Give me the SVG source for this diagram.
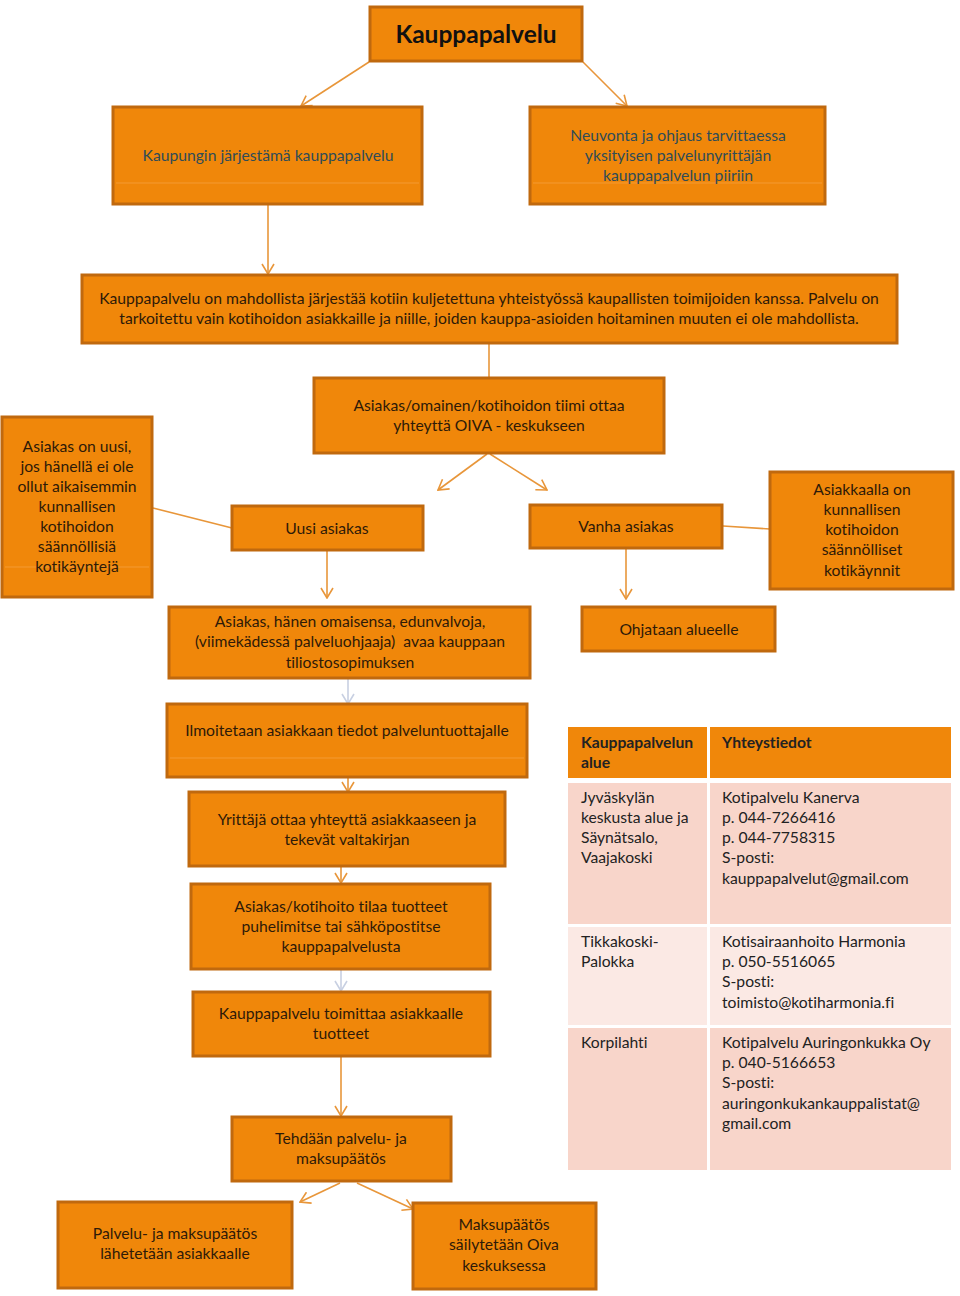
<svg xmlns="http://www.w3.org/2000/svg" width="960" height="1296" viewBox="0 0 960 1296">
<defs>
<style>
text{font-variant-ligatures:none;font-feature-settings:"liga" 0}
.b{fill:#F0870A;stroke:#C0690E;stroke-width:3}
.hl{stroke:#F6A445;stroke-width:1;opacity:0.7}
.t{font-family:Lato,"Open Sans",sans-serif;font-size:15.7px;fill:#2E1A08;text-anchor:middle}
.tt{font-family:Lato,"Open Sans",sans-serif;font-size:15.7px;fill:#2F4C58;text-anchor:middle}
.tb{font-family:Lato,"Open Sans",sans-serif;font-size:15.7px;fill:#222;}
.c{stroke:#E8963A;stroke-width:1.6;fill:none}
.g{stroke:#C8D0E2;stroke-width:1.6;fill:none}
</style>
<marker id="a" viewBox="0 0 12 14" refX="11" refY="7" markerWidth="12" markerHeight="14" markerUnits="userSpaceOnUse" orient="auto">
<path d="M1,1 L11,7 L1,13" fill="none" stroke="#E8963A" stroke-width="1.6"/>
</marker>
<marker id="ag" viewBox="0 0 12 14" refX="11" refY="7" markerWidth="12" markerHeight="14" markerUnits="userSpaceOnUse" orient="auto">
<path d="M1,1 L11,7 L1,13" fill="none" stroke="#C8D0E2" stroke-width="1.6"/>
</marker>
</defs>
<rect width="960" height="1296" fill="#fff"/>

<g id="connectors">
<line class="c" x1="369" y1="62" x2="301" y2="106" marker-end="url(#a)"/>
<line class="c" x1="583" y1="62" x2="627" y2="106" marker-end="url(#a)"/>
<line class="c" x1="268" y1="205" x2="268" y2="274" marker-end="url(#a)"/>
<line class="c" x1="489" y1="344" x2="489" y2="377"/>
<line class="c" x1="487" y1="454" x2="438" y2="490" marker-end="url(#a)"/>
<line class="c" x1="490" y1="454" x2="547" y2="490" marker-end="url(#a)"/>
<line class="c" x1="153" y1="508" x2="232" y2="528"/>
<line class="c" x1="723" y1="526" x2="770" y2="529"/>
<line class="c" x1="327" y1="551" x2="327" y2="598" marker-end="url(#a)"/>
<line class="c" x1="626" y1="549" x2="626" y2="599" marker-end="url(#a)"/>
<line class="g" x1="348" y1="679" x2="348" y2="704" marker-end="url(#ag)"/>
<line class="c" x1="348" y1="778" x2="348" y2="792" marker-end="url(#a)"/>
<line class="c" x1="341" y1="867" x2="341" y2="883" marker-end="url(#a)"/>
<line class="g" x1="341" y1="970" x2="341" y2="991" marker-end="url(#ag)"/>
<line class="c" x1="341" y1="1057" x2="341" y2="1116" marker-end="url(#a)"/>
<line class="c" x1="340" y1="1183" x2="300" y2="1202" marker-end="url(#a)"/>
<line class="c" x1="357" y1="1183" x2="413" y2="1209" marker-end="url(#a)"/>
</g>

<g id="n1"><rect class="b" x="370" y="7" width="212" height="54"/>
<text x="476" y="43" font-family="Lato,'Open Sans',sans-serif" font-size="24.5" font-weight="bold" fill="#111" text-anchor="middle">Kauppapalvelu</text></g>

<g id="n2"><rect class="b" x="113" y="107" width="309" height="97"/><line class="hl" x1="116" y1="183" x2="419" y2="183"/>
<text class="tt" x="268" y="161">Kaupungin järjestämä kauppapalvelu</text></g>

<g id="n3"><rect class="b" x="530" y="107" width="295" height="97"/><line class="hl" x1="533" y1="183" x2="822" y2="183"/>
<text class="tt" x="678" y="141">Neuvonta ja ohjaus tarvittaessa</text>
<text class="tt" x="678" y="161">yksityisen palvelunyrittäjän</text>
<text class="tt" x="678" y="181">kauppapalvelun piiriin</text></g>

<g id="n4"><rect class="b" x="82" y="275" width="815" height="68"/>
<text class="t" x="489" y="304">Kauppapalvelu on mahdollista järjestää kotiin kuljetettuna yhteistyössä kaupallisten toimijoiden kanssa. Palvelu on</text>
<text class="t" x="489" y="324">tarkoitettu vain kotihoidon asiakkaille ja niille, joiden kauppa-asioiden hoitaminen muuten ei ole mahdollista.</text></g>

<g id="n5"><rect class="b" x="314" y="378" width="350" height="75"/>
<text class="t" x="489" y="411">Asiakas/omainen/kotihoidon tiimi ottaa</text>
<text class="t" x="489" y="431">yhteyttä OIVA - keskukseen</text></g>

<g id="n6"><rect class="b" x="2" y="417" width="150" height="180"/><line class="hl" x1="5" y1="567" x2="149" y2="567"/>
<text class="t" x="77" y="452">Asiakas on uusi,</text>
<text class="t" x="77" y="472">jos hänellä ei ole</text>
<text class="t" x="77" y="492">ollut aikaisemmin</text>
<text class="t" x="77" y="512">kunnallisen</text>
<text class="t" x="77" y="532">kotihoidon</text>
<text class="t" x="77" y="552">säännöllisiä</text>
<text class="t" x="77" y="572">kotikäyntejä</text></g>

<g id="n7"><rect class="b" x="232" y="506" width="191" height="44"/>
<text class="t" x="327" y="534">Uusi asiakas</text></g>

<g id="n8"><rect class="b" x="530" y="505" width="192" height="43"/>
<text class="t" x="626" y="532">Vanha asiakas</text></g>

<g id="n9"><rect class="b" x="770" y="472" width="183" height="117"/>
<text class="t" x="862" y="495">Asiakkaalla on</text>
<text class="t" x="862" y="515">kunnallisen</text>
<text class="t" x="862" y="535">kotihoidon</text>
<text class="t" x="862" y="555">säännölliset</text>
<text class="t" x="862" y="576">kotikäynnit</text></g>

<g id="n10"><rect class="b" x="169" y="607" width="361" height="71"/>
<text class="t" x="350" y="627">Asiakas, hänen omaisensa, edunvalvoja,</text>
<text class="t" x="350" y="647" xml:space="preserve">(viimekädessä palveluohjaaja)  avaa kauppaan</text>
<text class="t" x="350" y="668">tiliostosopimuksen</text></g>

<g id="n11"><rect class="b" x="582" y="607" width="193" height="44"/>
<text class="t" x="679" y="635">Ohjataan alueelle</text></g>

<g id="n12"><rect class="b" x="167" y="704" width="360" height="73"/><line class="hl" x1="170" y1="758" x2="524" y2="758"/>
<text class="t" x="347" y="736">Ilmoitetaan asiakkaan tiedot palveluntuottajalle</text></g>

<g id="n13"><rect class="b" x="189" y="792" width="316" height="74"/>
<text class="t" x="347" y="825">Yrittäjä ottaa yhteyttä asiakkaaseen ja</text>
<text class="t" x="347" y="845">tekevät valtakirjan</text></g>

<g id="n14"><rect class="b" x="191" y="884" width="299" height="85"/>
<text class="t" x="341" y="912">Asiakas/kotihoito tilaa tuotteet</text>
<text class="t" x="341" y="932">puhelimitse tai sähköpostitse</text>
<text class="t" x="341" y="952">kauppapalvelusta</text></g>

<g id="n15"><rect class="b" x="193" y="992" width="297" height="64"/>
<text class="t" x="341" y="1019">Kauppapalvelu toimittaa asiakkaalle</text>
<text class="t" x="341" y="1039">tuotteet</text></g>

<g id="n16"><rect class="b" x="232" y="1117" width="219" height="64"/>
<text class="t" x="341" y="1144">Tehdään palvelu- ja</text>
<text class="t" x="341" y="1164">maksupäätös</text></g>

<g id="n17"><rect class="b" x="58" y="1202" width="234" height="86"/>
<text class="t" x="175" y="1239">Palvelu- ja maksupäätös</text>
<text class="t" x="175" y="1259">lähetetään asiakkaalle</text></g>

<g id="n18"><rect class="b" x="413" y="1203" width="183" height="86"/>
<text class="t" x="504" y="1230">Maksupäätös</text>
<text class="t" x="504" y="1250">säilytetään Oiva</text>
<text class="t" x="504" y="1271">keskuksessa</text></g>

<g id="table">
<rect x="568" y="727" width="139" height="51" fill="#F0870A"/>
<rect x="710" y="727" width="241" height="51" fill="#F0870A"/>
<rect x="568" y="783" width="139" height="141" fill="#F8D5CA"/>
<rect x="710" y="783" width="241" height="141" fill="#F8D5CA"/>
<rect x="568" y="927" width="139" height="98" fill="#FBE9E4"/>
<rect x="710" y="927" width="241" height="98" fill="#FBE9E4"/>
<rect x="568" y="1028" width="139" height="142" fill="#F8D5CA"/>
<rect x="710" y="1028" width="241" height="142" fill="#F8D5CA"/>
<text class="tb" font-weight="bold" x="581" y="748">Kauppapalvelun</text>
<text class="tb" font-weight="bold" x="581" y="768">alue</text>
<text class="tb" font-weight="bold" x="722" y="748">Yhteystiedot</text>
<text class="tb" x="581" y="803">Jyväskylän</text>
<text class="tb" x="581" y="823">keskusta alue ja</text>
<text class="tb" x="581" y="843">Säynätsalo,</text>
<text class="tb" x="581" y="863">Vaajakoski</text>
<text class="tb" x="722" y="803">Kotipalvelu Kanerva</text>
<text class="tb" x="722" y="823">p. 044-7266416</text>
<text class="tb" x="722" y="843">p. 044-7758315</text>
<text class="tb" x="722" y="863">S-posti:</text>
<text class="tb" x="722" y="884">kauppapalvelut@gmail.com</text>
<text class="tb" x="581" y="947">Tikkakoski-</text>
<text class="tb" x="581" y="967">Palokka</text>
<text class="tb" x="722" y="947">Kotisairaanhoito Harmonia</text>
<text class="tb" x="722" y="967">p. 050-5516065</text>
<text class="tb" x="722" y="987">S-posti:</text>
<text class="tb" x="722" y="1008">toimisto@kotiharmonia.fi</text>
<text class="tb" x="581" y="1048">Korpilahti</text>
<text class="tb" x="722" y="1048">Kotipalvelu Auringonkukka Oy</text>
<text class="tb" x="722" y="1068">p. 040-5166653</text>
<text class="tb" x="722" y="1088">S-posti:</text>
<text class="tb" x="722" y="1109">auringonkukankauppalistat@</text>
<text class="tb" x="722" y="1129">gmail.com</text>
</g>
</svg>
